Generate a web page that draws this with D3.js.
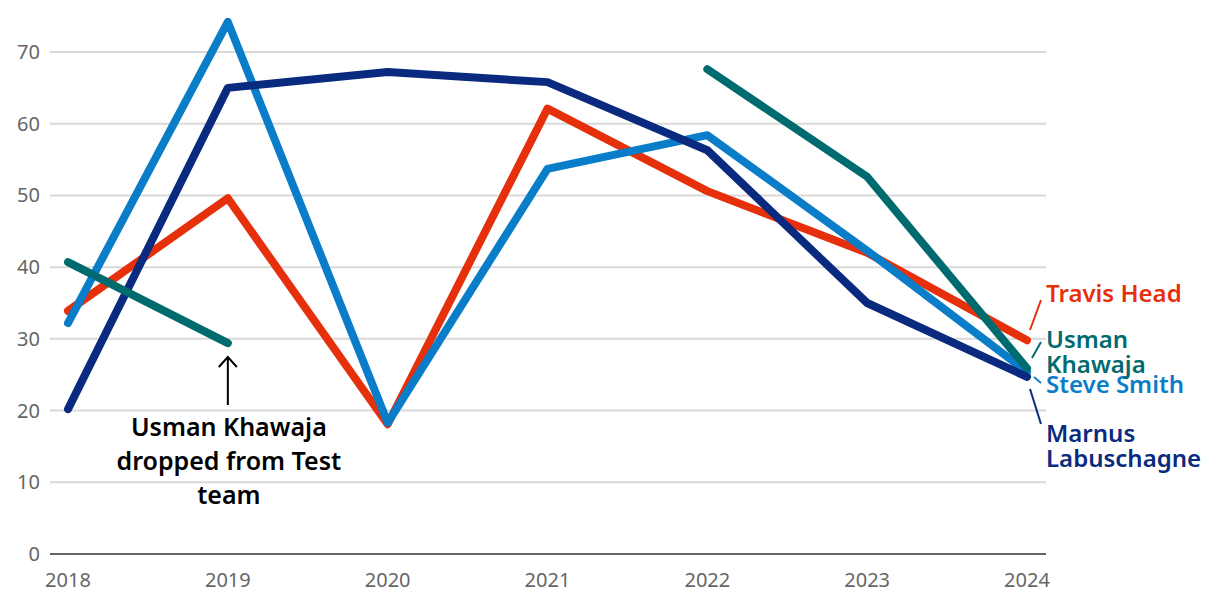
<!DOCTYPE html>
<html>
<head>
<meta charset="utf-8">
<script src="https://cdn.jsdelivr.net/npm/d3@7"></script>
<style>
  body { margin: 0; background: #fff; }
  text { font-family: "Noto Sans", sans-serif; }
</style>
</head>
<body>
<script>
// data
var years = [2018, 2019, 2020, 2021, 2022, 2023, 2024];
var yTicks = [0, 10, 20, 30, 40, 50, 60, 70];
var head = [33.9, 49.6, 18.1, 62.1, 50.6, 42.0, 29.8];
var smith = [32.2, 74.2, 18.3, 53.7, 58.4, 42.3, 25.4];
var labuschagne = [20.2, 65.0, 67.2, 65.8, 56.3, 35.0, 24.7];
var khawaja = [40.7, 29.4, null, null, 67.6, 52.6, 25.9];

var series = [
  { name: ["Travis Head"], values: head, color: "#e5300b", labelY: 302, from: [1030, 330], to: [1041, 300] },
  { name: ["Steve Smith"], values: smith, color: "#0a7dc9", labelY: 393, from: [1034, 377], to: [1041, 383] },
  { name: ["Marnus", "Labuschagne"], values: labuschagne, color: "#092a7e", labelY: 442, from: [1030, 389], to: [1041, 424] },
  { name: ["Usman", "Khawaja"], values: khawaja, color: "#006b6f", labelY: 348, from: [1032, 358], to: [1041, 342] }
];

var width = 1220, height = 600;
var svg = d3.select("body").append("svg")
  .attr("width", width)
  .attr("height", height);

var x = d3.scaleLinear().domain([2018, 2024]).range([68, 1027]);
var y = d3.scaleLinear().domain([0, 70]).range([554, 52]);

// gridlines
svg.append("g")
  .selectAll("line")
  .data(yTicks.filter(function(d){ return d > 0; }))
  .enter().append("line")
  .attr("x1", 50).attr("x2", 1046)
  .attr("y1", function(d){ return y(d); })
  .attr("y2", function(d){ return y(d); })
  .attr("stroke", "#d9d9d9")
  .attr("stroke-width", 2);

// zero line
svg.append("line")
  .attr("x1", 50).attr("x2", 1046)
  .attr("y1", y(0)).attr("y2", y(0))
  .attr("stroke", "#666")
  .attr("stroke-width", 2);

// y tick labels
svg.append("g")
  .selectAll("text")
  .data(yTicks)
  .enter().append("text")
  .attr("x", 40)
  .attr("y", function(d){ return y(d) + 7; })
  .attr("text-anchor", "end")
  .attr("fill", "#666")
  .style("font-size", "20px")
  .text(function(d){ return d; });

// x tick labels
svg.append("g")
  .selectAll("text")
  .data(years)
  .enter().append("text")
  .attr("x", function(d){ return x(d); })
  .attr("y", 587)
  .attr("text-anchor", "middle")
  .attr("fill", "#666")
  .style("font-size", "20px")
  .text(function(d){ return d; });

var line = d3.line()
  .defined(function(d){ return d != null; })
  .x(function(d, i){ return x(years[i]); })
  .y(function(d){ return y(d); });

// lines
svg.append("g")
  .selectAll("path")
  .data(series)
  .enter().append("path")
  .attr("d", function(d){ return line(d.values); })
  .attr("fill", "none")
  .attr("stroke", function(d){ return d.color; })
  .attr("stroke-width", 8)
  .attr("stroke-linecap", "round")
  .attr("stroke-linejoin", "round");

// end labels + connectors
series.forEach(function(s){
  svg.append("line")
    .attr("x1", s.from[0]).attr("y1", s.from[1])
    .attr("x2", s.to[0]).attr("y2", s.to[1])
    .attr("stroke", s.color)
    .attr("stroke-width", 2);
  var t = svg.append("text")
    .attr("x", 1046)
    .attr("y", s.labelY)
    .attr("fill", s.color)
    .style("font-size", "24px")
    .style("font-weight", 600);
  s.name.forEach(function(n, i){
    t.append("tspan")
      .attr("x", 1046)
      .attr("dy", i === 0 ? 0 : 25)
      .text(n);
  });
});

// annotation
var ax = x(2019);
svg.append("line")
  .attr("x1", ax).attr("x2", ax)
  .attr("y1", 405).attr("y2", 358)
  .attr("stroke", "#000")
  .attr("stroke-width", 2);
svg.append("path")
  .attr("d", "M" + (ax - 9) + ",367 L" + ax + ",357 L" + (ax + 9) + ",367")
  .attr("fill", "none")
  .attr("stroke", "#000")
  .attr("stroke-width", 2);

var note = svg.append("text")
  .attr("x", ax + 1)
  .attr("y", 436)
  .attr("text-anchor", "middle")
  .attr("fill", "#000")
  .style("font-size", "25px")
  .style("font-weight", 600);
["Usman Khawaja", "dropped from Test", "team"].forEach(function(n, i){
  note.append("tspan")
    .attr("x", ax + 1)
    .attr("dy", i === 0 ? 0 : 34)
    .text(n);
});
</script>
</body>
</html>
